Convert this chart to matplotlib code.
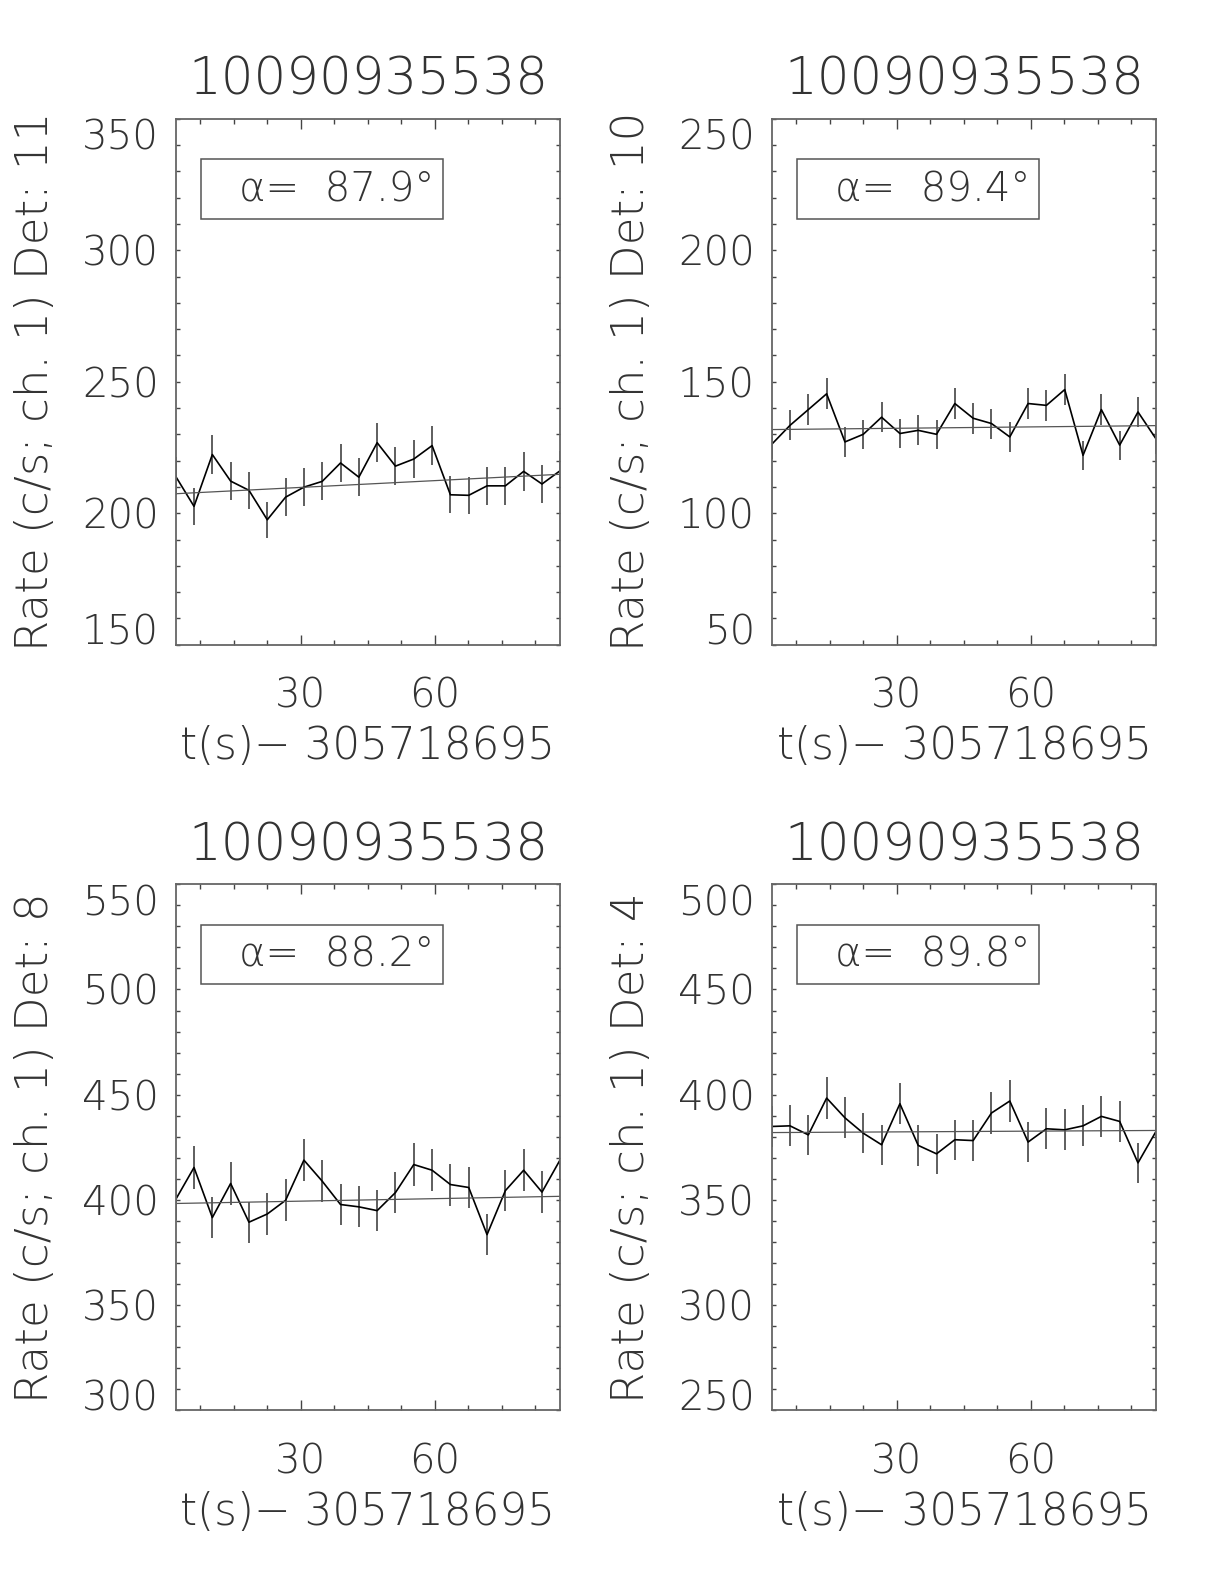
import matplotlib
matplotlib.use("Agg")
import matplotlib.pyplot as plt
from matplotlib.ticker import MultipleLocator
from matplotlib.patches import Rectangle

# time bins (s since 305718695)
times = [2.048, 6.144, 10.24, 14.336, 18.432, 22.528, 26.624, 30.72, 34.816, 38.912, 43.008,
         47.104, 51.2, 55.296, 59.392, 63.488, 67.584, 71.68, 75.776, 79.872, 83.968, 88.064]

title = "10090935538"
xlabel = "t(s)\u2212 305718695"

# detector 11
rate_d11 = [214.0, 202.6, 222.3, 212.2, 208.7, 197.5, 206.1, 209.9, 212.1, 219.1, 213.7,
            226.8, 217.9, 220.6, 225.7, 207.0, 206.8, 210.4, 210.4, 215.9, 211.1, 216.2]
err_d11 = [7.2, 7.0, 7.4, 7.2, 7.1, 6.9, 7.1, 7.2, 7.2, 7.3, 7.2,
           7.4, 7.3, 7.3, 7.4, 7.1, 7.1, 7.2, 7.2, 7.3, 7.2, 7.3]
fit_d11 = [207.4, 214.8]

# detector 10
rate_d10 = [126.2, 133.4, 139.4, 145.4, 127.1, 130.0, 136.5, 130.3, 131.5, 130.0, 141.7,
            136.1, 134.1, 129.0, 141.7, 141.0, 147.0, 122.0, 139.4, 125.9, 138.5, 128.1]
err_d10 = [5.6, 5.7, 5.8, 5.9, 5.6, 5.6, 5.8, 5.6, 5.7, 5.6, 5.9,
           5.8, 5.7, 5.6, 5.9, 5.9, 6.0, 5.5, 5.8, 5.5, 5.8, 5.6]
fit_d10 = [131.8, 133.3]

# detector 8
rate_d8 = [400.2, 415.4, 391.6, 407.8, 389.4, 393.3, 399.8, 418.9, 408.9, 397.8, 396.7,
           394.9, 403.5, 416.8, 414.1, 407.3, 405.9, 383.5, 404.4, 414.1, 403.7, 419.2]
err_d8 = [9.9, 10.1, 9.8, 10.0, 9.7, 9.8, 9.9, 10.1, 10.0, 9.8, 9.8,
          9.8, 9.9, 10.1, 10.0, 10.0, 9.9, 9.7, 9.9, 10.0, 9.9, 10.1]
fit_d8 = [398.3, 401.7]

# detector 4
rate_d4 = [384.9, 385.2, 380.9, 398.4, 389.0, 381.7, 376.2, 395.7, 375.9, 371.9, 378.6,
           378.2, 391.3, 397.0, 377.5, 383.8, 383.3, 385.2, 389.7, 387.3, 367.6, 382.8]
err_d4 = [9.7, 9.7, 9.6, 9.8, 9.7, 9.6, 9.6, 9.8, 9.6, 9.5, 9.6,
          9.6, 9.8, 9.8, 9.6, 9.7, 9.7, 9.7, 9.7, 9.7, 9.5, 9.7]
fit_d4 = [382.0, 383.0]

panels = [
    ("11", rate_d11, err_d11, fit_d11, (150, 350), "87.9", (175.7, 118.7)),
    ("10", rate_d10, err_d10, fit_d10, (50, 250), "89.4", (771.7, 118.7)),
    ("8", rate_d8, err_d8, fit_d8, (300, 550), "88.2", (175.7, 884.3)),
    ("4", rate_d4, err_d4, fit_d4, (250, 500), "89.8", (771.7, 884.3)),
]

FW, FH = 1224, 1584
AW, AH = 384.6, 526.0
font = ["DejaVu Sans"]
fw = 200
tc = "#444444"
txt = "#333333"

fig = plt.figure(figsize=(FW / 100, FH / 100), dpi=100)

for det, rate, err, fit, ylim, alpha, (left, top) in panels:
    ax = fig.add_axes([left / FW, 1 - (top + AH) / FH, AW / FW, AH / FH])
    lo = [r - e for r, e in zip(rate, err)]
    hi = [r + e for r, e in zip(rate, err)]
    ax.vlines(times, lo, hi, color="#333333", lw=1.1)
    ax.plot(times, rate, color="black", lw=1.2)
    ax.plot([times[0], times[-1]], fit, color="#555555", lw=0.9)

    ax.set_xlim(times[0], times[-1])
    ax.xaxis.set_major_locator(MultipleLocator(30))
    ax.xaxis.set_minor_locator(MultipleLocator(7.5))
    ax.set_yticks([v for v in range(ylim[0], ylim[1] + 1, 50)])
    ax.yaxis.set_minor_locator(MultipleLocator(10))
    ax.set_ylim(*ylim)
    ax.tick_params(which="both", direction="in", top=True, right=True, color=tc, width=1)
    ax.tick_params(axis="x", which="major", length=7, pad=23)
    ax.tick_params(axis="x", which="minor", length=3.5)
    ax.tick_params(axis="y", which="both", length=3, pad=12)
    ax.tick_params(axis="both", which="major", labelsize=29, labelcolor=txt)
    for lab in ax.get_xticklabels() + ax.get_yticklabels():
        lab.set_family(font)
        lab.set_fontweight(fw)
    ylabs = ax.get_yticklabels()
    ylabs[0].set_va("baseline")
    ylabs[-1].set_va("top")
    for sp in ax.spines.values():
        sp.set_color("#666666")
        sp.set_linewidth(1.3)

    ax.text(0.5, 1 + 38 / AH, title, transform=ax.transAxes, ha="center", va="center",
            fontsize=37, family=font, fontweight=fw, color=txt)
    ax.text(0.5, -102 / AH, xlabel, transform=ax.transAxes, ha="center", va="center",
            fontsize=31.5, family=font, fontweight=fw, color=txt)
    ax.text(-140 / AW, 0.5, f"Rate (c/s; ch. 1) Det: {det}", transform=ax.transAxes,
            ha="center", va="center", rotation=90, fontsize=32.5, family=font,
            fontweight=fw, color=txt)

    ax.add_patch(Rectangle((25.6 / AW, 1 - 100 / AH), 242 / AW, 59.7 / AH,
                           transform=ax.transAxes, fill=False, edgecolor="#555555", lw=1.1))
    ax.text(63 / AW, 1 - 71 / AH, f"\u03b1=  {alpha}\u00b0", transform=ax.transAxes,
            ha="left", va="center", fontsize=29, family=font, fontweight=fw,
            color=txt)

fig.savefig("out.png", dpi=100)
